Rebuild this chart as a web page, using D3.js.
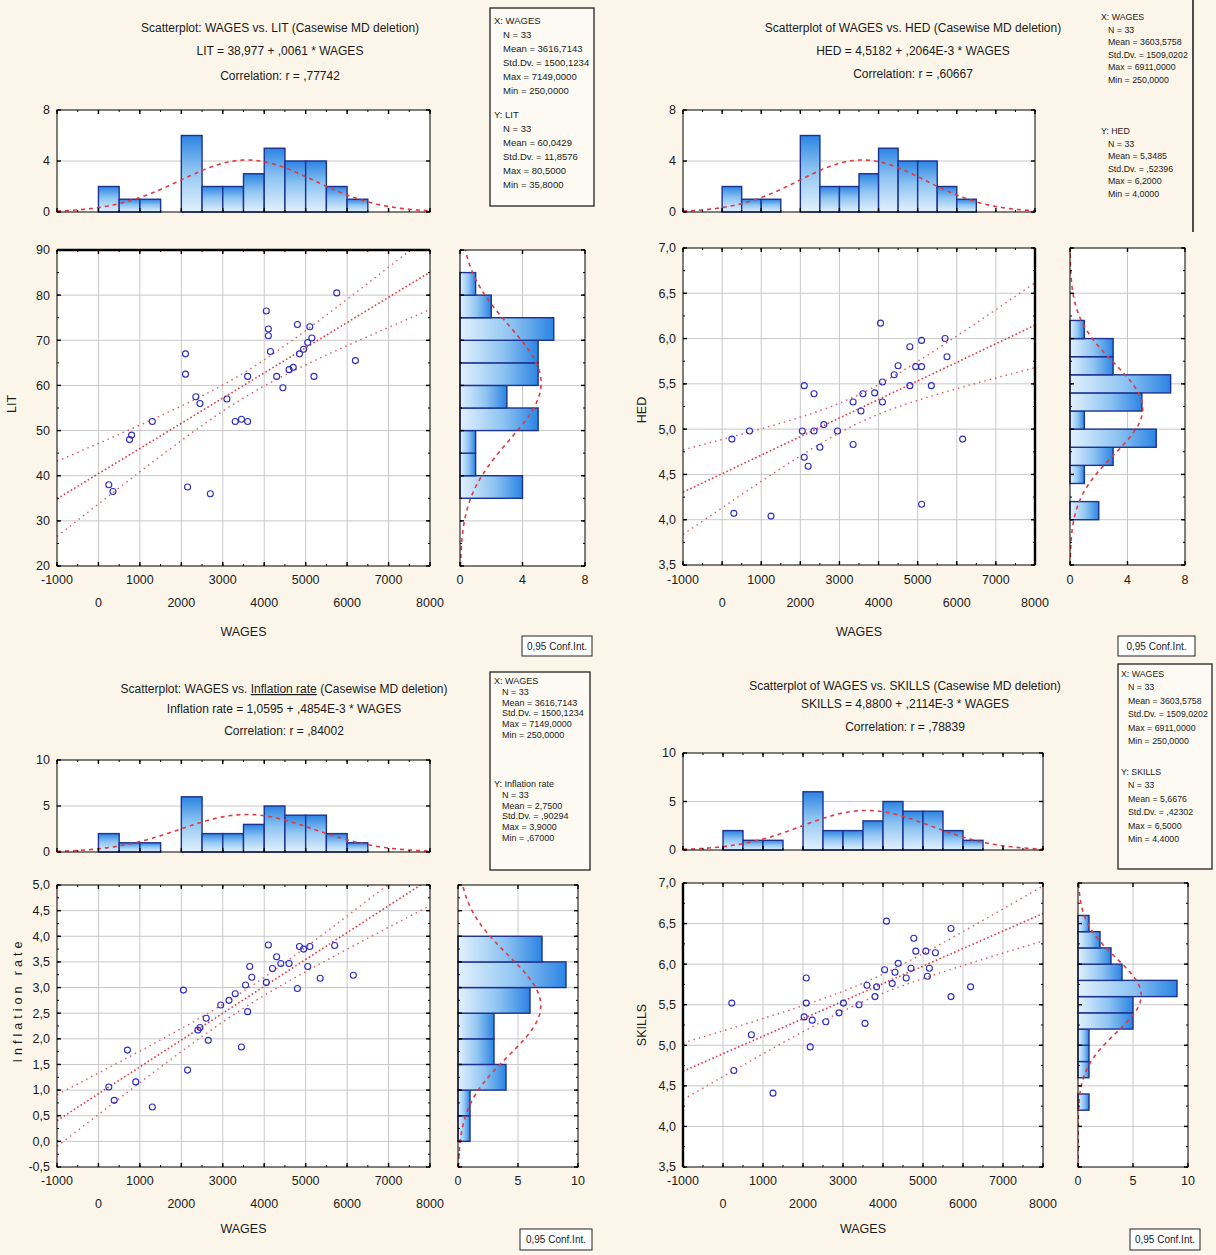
<!DOCTYPE html>
<html>
<head>
<meta charset="utf-8">
<script src="https://cdn.jsdelivr.net/npm/d3@7"></script>
<style>
  body { margin: 0; background: #fcf6ea; }
  svg { display: block; font-family: 'Liberation Sans', Arial, sans-serif; }
</style>
</head>
<body>
<svg id="chart" width="1216" height="1255"></svg>
<script>
// WAGES histogram (same variable in every panel), bins of 500
const wagesEdges = [0, 500, 1000, 1500, 2000, 2500, 3000, 3500, 4000, 4500, 5000, 5500, 6000]
const wagesCounts = [2, 1, 1, 0, 6, 2, 2, 3, 5, 4, 4, 2, 1]

const litEdges = [35, 40, 45, 50, 55, 60, 65, 70, 75, 80]
const litCounts = [4, 1, 1, 5, 3, 5, 5, 6, 2, 1]

const hedEdges = [4.0, 4.2, 4.4, 4.6, 4.8, 5.0, 5.2, 5.4, 5.6, 5.8, 6.0]
const hedCounts = [2, 0, 1, 3, 6, 1, 5, 7, 3, 3, 1]

const inflEdges = [0, 0.5, 1.0, 1.5, 2.0, 2.5, 3.0, 3.5]
const inflCounts = [1, 1, 4, 3, 3, 6, 9, 7]

const skillEdges = [4.2, 4.4, 4.6, 4.8, 5.0, 5.2, 5.4, 5.6, 5.8, 6.0, 6.2, 6.4]
const skillCounts = [1, 0, 1, 1, 1, 5, 5, 9, 4, 3, 2, 1]

// scatter points [WAGES, y]
const litPoints = [[250, 38], [350, 36.5], [750, 48], [800, 49], [1300, 52], [2100, 67], [2100, 62.5],
  [2150, 37.5], [2350, 57.5], [2450, 56], [2700, 36], [3300, 52], [3450, 52.5], [3600, 52], [3600, 62],
  [3100, 57], [4050, 76.5], [4100, 72.5], [4100, 71], [4150, 67.5], [4300, 62], [4450, 59.5], [4600, 63.5],
  [4700, 64], [4800, 73.5], [4850, 67], [4950, 68], [5050, 69.5], [5100, 73], [5150, 70.5], [5200, 62],
  [5750, 80.5], [6200, 65.5]]

const hedPoints = [[4050, 6.17], [4800, 5.91], [5100, 5.98], [5700, 6.0], [5750, 5.8], [4950, 5.69],
  [5100, 5.69], [4100, 5.52], [4800, 5.48], [5350, 5.48], [3600, 5.39], [3350, 5.30], [3550, 5.2],
  [4100, 5.3], [2100, 5.48], [2350, 5.39], [2050, 4.98], [2350, 4.98], [2950, 4.98], [2500, 4.8],
  [3350, 4.83], [2100, 4.69], [2200, 4.59], [700, 4.98], [250, 4.89], [300, 4.07], [1250, 4.04],
  [5100, 4.17], [6150, 4.89], [4400, 5.6], [3900, 5.4], [4500, 5.7], [2600, 5.05]]

const inflPoints = [[4100, 3.83], [4850, 3.80], [5100, 3.80], [5700, 3.82], [4950, 3.75], [3650, 3.41],
  [4200, 3.37], [4400, 3.47], [4600, 3.47], [5050, 3.41], [5350, 3.18], [6150, 3.24], [3550, 3.05],
  [4800, 2.98], [3300, 2.88], [2050, 2.95], [2950, 2.66], [3600, 2.53], [3150, 2.75], [2400, 2.17],
  [2450, 2.22], [2650, 1.97], [3450, 1.84], [700, 1.78], [2150, 1.39], [250, 1.06], [900, 1.16],
  [1300, 0.67], [380, 0.80], [4300, 3.6], [3700, 3.2], [4050, 3.1], [2600, 2.4]]

const skillPoints = [[4087, 6.53], [5700, 6.44], [4770, 6.32], [4820, 6.16], [5070, 6.16], [5310, 6.14],
  [4380, 6.01], [4040, 5.93], [5160, 5.95], [5110, 5.85], [4580, 5.83], [4230, 5.76], [3600, 5.74],
  [3840, 5.72], [2080, 5.83], [6190, 5.72], [5700, 5.60], [3010, 5.52], [3400, 5.50], [2080, 5.52],
  [2030, 5.35], [2230, 5.31], [2570, 5.29], [3550, 5.27], [220, 5.52], [710, 5.13], [2180, 4.98],
  [270, 4.69], [1250, 4.41], [4300, 5.9], [4700, 5.95], [2900, 5.4], [3800, 5.6]]

// titles and legend texts
const litTitle = ['Scatterplot: WAGES vs. LIT (Casewise MD deletion)', 'LIT = 38,977 + ,0061 * WAGES', 'Correlation: r = ,77742']
const hedTitle = ['Scatterplot of WAGES vs. HED (Casewise MD deletion)', 'HED = 4,5182 + ,2064E-3 * WAGES', 'Correlation: r = ,60667']
const inflTitle = ['Scatterplot: WAGES vs. Inflation rate (Casewise MD deletion)', 'Inflation rate = 1,0595 + ,4854E-3 * WAGES', 'Correlation: r = ,84002']
const skillTitle = ['Scatterplot of WAGES vs. SKILLS (Casewise MD deletion)', 'SKILLS = 4,8800 + ,2114E-3 * WAGES', 'Correlation: r = ,78839']

const wagesLegendA = ['X: WAGES', 'N = 33', 'Mean = 3616,7143', 'Std.Dv. = 1500,1234', 'Max = 7149,0000', 'Min = 250,0000']
const wagesLegendB = ['X: WAGES', 'N = 33', 'Mean = 3603,5758', 'Std.Dv. = 1509,0202', 'Max = 6911,0000', 'Min = 250,0000']
const litLegend = ['Y: LIT', 'N = 33', 'Mean = 60,0429', 'Std.Dv. = 11,8576', 'Max = 80,5000', 'Min = 35,8000']
const hedLegend = ['Y: HED', 'N = 33', 'Mean = 5,3485', 'Std.Dv. = ,52396', 'Max = 6,2000', 'Min = 4,0000']
const inflLegend = ['Y: Inflation rate', 'N = 33', 'Mean = 2,7500', 'Std.Dv. = ,90294', 'Max = 3,9000', 'Min = ,67000']
const skillLegend = ['Y: SKILLS', 'N = 33', 'Mean = 5,6676', 'Std.Dv. = ,42302', 'Max = 6,5000', 'Min = 4,4000']

// ---- drawing ----
const svg = d3.select('#chart')
const xDomain = [-1000, 8000]
const xTicks = d3.range(-1000, 8001, 1000)
const xMinor = d3.range(-1000, 8001, 500)
const gridCol = '#c8c8c8'
const red = '#e2383f'
const blue = '#2b2bc8'
const navy = '#1c3290'
const ink = '#1a1a1a'
const minus = s => s.replace('\u2212', '-')
const fmtInt = d => minus(d3.format('d')(d))
const fmtDec = d => minus(d3.format('.1f')(d)).replace('.', ',')

const defs = svg.append('defs')
function gradient (id, x1, y1, x2, y2) {
  const gr = defs.append('linearGradient').attr('id', id)
    .attr('x1', x1).attr('y1', y1).attr('x2', x2).attr('y2', y2)
  gr.append('stop').attr('offset', 0).attr('stop-color', '#2c84e3')
  gr.append('stop').attr('offset', 0.45).attr('stop-color', '#8ec4f2')
  gr.append('stop').attr('offset', 1).attr('stop-color', '#e3f1fd')
}
gradient('barV', 0, 0, 0, 1)
gradient('barH', 1, 0, 0, 0)

// normal curve fitted to binned counts (as Statistica overlays)
function normalFit (edges, counts, w) {
  const n = d3.sum(counts)
  const mids = edges.map(e => e + w / 2)
  const mean = d3.sum(mids, (m, i) => m * counts[i]) / n
  const sd = Math.sqrt(d3.sum(mids, (m, i) => counts[i] * (m - mean) ** 2) / (n - 1))
  return v => n * w * Math.exp(-0.5 * ((v - mean) / sd) ** 2) / (sd * Math.sqrt(2 * Math.PI))
}

// least squares line and 95% confidence band computed from the points
function regression (pts) {
  const n = pts.length
  const mx = d3.mean(pts, d => d[0])
  const my = d3.mean(pts, d => d[1])
  const sxx = d3.sum(pts, d => (d[0] - mx) ** 2)
  const sxy = d3.sum(pts, d => (d[0] - mx) * (d[1] - my))
  const b = sxy / sxx
  const a = my - b * mx
  const s = Math.sqrt(d3.sum(pts, d => (d[1] - a - b * d[0]) ** 2) / (n - 2))
  return {
    fit: v => a + b * v,
    band: v => 2.04 * s * Math.sqrt(1 / n + (v - mx) ** 2 / sxx)
  }
}

let clipId = 0
function clip (x0, y0, x1, y1) {
  const id = 'clip' + (clipId++)
  defs.append('clipPath').attr('id', id).append('rect')
    .attr('x', x0).attr('y', y0).attr('width', x1 - x0).attr('height', y1 - y0)
  return `url(#${id})`
}

// frame with inward tick marks on all four sides
function frame (g, x0, y0, x1, y1, hTicks, vTicks, hMinor, vMinor, thick) {
  g.append('rect').attr('x', x0).attr('y', y0).attr('width', x1 - x0).attr('height', y1 - y0)
    .attr('fill', 'none').attr('stroke', '#000').attr('stroke-width', 1)
  const t = g.append('g').attr('stroke', '#000')
  const mk = (vals, len, w) => {
    vals.forEach(v => {
      t.append('line').attr('x1', v).attr('x2', v).attr('y1', y1).attr('y2', y1 - len).attr('stroke-width', w)
      t.append('line').attr('x1', v).attr('x2', v).attr('y1', y0).attr('y2', y0 + len).attr('stroke-width', w)
    })
  }
  const mkv = (vals, len, w) => {
    vals.forEach(v => {
      t.append('line').attr('y1', v).attr('y2', v).attr('x1', x0).attr('x2', x0 + len).attr('stroke-width', w)
      t.append('line').attr('y1', v).attr('y2', v).attr('x1', x1).attr('x2', x1 - len).attr('stroke-width', w)
    })
  }
  mk(hMinor, 2, 1)
  mk(hTicks, 4, 1.4)
  mkv(vMinor, 2, 1)
  mkv(vTicks, 4, 1.4)
  if (thick) {
    const s = { top: [x0, y0, x1, y0], right: [x1, y0, x1, y1], left: [x0, y0, x0, y1] }[thick]
    g.append('line').attr('x1', s[0]).attr('y1', s[1]).attr('x2', s[2]).attr('y2', s[3])
      .attr('stroke', '#000').attr('stroke-width', 2.4)
  }
}

function drawPanel (p) {
  const L = p.layout
  const g = svg.append('g')
  const x = d3.scaleLinear().domain(xDomain).range([L.sx0, L.sx1])
  const y = d3.scaleLinear().domain(p.yDomain).range([L.sy1, L.sy0])
  const nSteps = Math.round((p.yDomain[1] - p.yDomain[0]) / p.yStep)
  const yTicks = d3.range(nSteps + 1).map(k => p.yDomain[0] + k * p.yStep)
  const yMinor = d3.range(nSteps * 2 + 1).map(k => p.yDomain[0] + k * p.yStep / 2)

  // title
  const tl = g.append('g').attr('font-size', 12).attr('fill', ink).attr('text-anchor', 'middle')
  p.title.forEach((line, i) => {
    const t = tl.append('text').attr('x', L.tx).attr('y', L.ty[i])
    const parts = p.underline && i === 0 ? line.split(p.underline) : [line]
    parts.forEach((s, j) => {
      if (j > 0) t.append('tspan').attr('text-decoration', 'underline').text(p.underline)
      t.append('tspan').text(s)
    })
  })

  // --- top histogram of WAGES ---
  const yt = d3.scaleLinear().domain([0, p.topMax]).range([L.hy1, L.hy0])
  const top = g.append('g')
  top.append('rect').attr('x', L.sx0).attr('y', L.hy0).attr('width', L.sx1 - L.sx0)
    .attr('height', L.hy1 - L.hy0).attr('fill', '#fff')
  top.selectAll('line.grid').data(p.topTicks.slice(1, -1)).join('line').attr('class', 'grid')
    .attr('x1', L.sx0).attr('x2', L.sx1).attr('y1', d => yt(d)).attr('y2', d => yt(d)).attr('stroke', gridCol)
  const xBins = p.xEdges.map((e, i) => ({ lo: e, hi: e + p.xBinW, c: p.xCounts[i] })).filter(d => d.c > 0)
  top.selectAll('rect.bar').data(xBins).join('rect').attr('class', 'bar')
    .attr('x', d => x(d.lo)).attr('width', d => x(d.hi) - x(d.lo))
    .attr('y', d => yt(d.c)).attr('height', d => yt(0) - yt(d.c))
    .attr('fill', 'url(#barV)').attr('stroke', navy).attr('stroke-width', 1.4)
  const nx = normalFit(p.xEdges, p.xCounts, p.xBinW)
  top.append('path').datum(d3.range(xDomain[0], xDomain[1] + 1, 50))
    .attr('clip-path', clip(L.sx0, L.hy0, L.sx1, L.hy1))
    .attr('d', d3.line().x(v => x(v)).y(v => yt(nx(v))))
    .attr('fill', 'none').attr('stroke', red).attr('stroke-width', 1.6).attr('stroke-dasharray', '4,4')
  frame(top, L.sx0, L.hy0, L.sx1, L.hy1, xTicks.map(x), p.topTicks.map(yt), xMinor.map(x), [], null)
  top.selectAll('text').data(p.topTicks).join('text')
    .attr('x', L.sx0 - 7).attr('y', d => yt(d)).attr('dy', '0.35em').attr('text-anchor', 'end')
    .attr('font-size', 12.5).attr('fill', ink).text(d => d)

  // --- scatterplot ---
  const sc = g.append('g')
  sc.append('rect').attr('x', L.sx0).attr('y', L.sy0).attr('width', L.sx1 - L.sx0)
    .attr('height', L.sy1 - L.sy0).attr('fill', '#fff')
  sc.selectAll('line.gx').data(xTicks.slice(1, -1)).join('line').attr('class', 'gx')
    .attr('x1', d => x(d)).attr('x2', d => x(d)).attr('y1', L.sy0).attr('y2', L.sy1).attr('stroke', gridCol)
  sc.selectAll('line.gy').data(yTicks.slice(1, -1)).join('line').attr('class', 'gy')
    .attr('y1', d => y(d)).attr('y2', d => y(d)).attr('x1', L.sx0).attr('x2', L.sx1).attr('stroke', gridCol)

  const inner = sc.append('g').attr('clip-path', clip(L.sx0, L.sy0, L.sx1, L.sy1))
  const reg = regression(p.points)
  const xs = d3.range(xDomain[0], xDomain[1] + 1, 100)
  const line = d3.line().x(d => x(d[0])).y(d => y(d[1]))
  ;[-1, 1].forEach(sgn => {
    inner.append('path').datum(xs.map(v => [v, reg.fit(v) + sgn * reg.band(v)]))
      .attr('d', line).attr('fill', 'none').attr('stroke', '#e4575e')
      .attr('stroke-width', 1.4).attr('stroke-dasharray', '1.5,4')
  })
  inner.append('path').datum(xs.map(v => [v, reg.fit(v)]))
    .attr('d', line).attr('fill', 'none').attr('stroke', red)
    .attr('stroke-width', 1.6).attr('stroke-dasharray', '1.6,2.4')
  inner.selectAll('circle').data(p.points).join('circle')
    .attr('cx', d => x(d[0])).attr('cy', d => y(d[1])).attr('r', 3)
    .attr('fill', 'none').attr('stroke', blue).attr('stroke-width', 1.1)

  frame(sc, L.sx0, L.sy0, L.sx1, L.sy1, xTicks.map(x), yTicks.map(y), xMinor.map(x), yMinor.map(y), L.thick)

  // x tick labels in two staggered rows
  sc.selectAll('text.xl').data(xTicks).join('text').attr('class', 'xl')
    .attr('x', d => x(d)).attr('y', d => Math.abs(d / 1000) % 2 === 1 ? L.lab1 : L.lab2)
    .attr('text-anchor', 'middle').attr('font-size', 12.5).attr('fill', ink).text(fmtInt)
  sc.selectAll('text.yl').data(yTicks).join('text').attr('class', 'yl')
    .attr('x', L.sx0 - 7).attr('y', d => y(d)).attr('dy', '0.35em').attr('text-anchor', 'end')
    .attr('font-size', 12.5).attr('fill', ink).text(p.yFormat)
  sc.append('text').attr('x', (L.sx0 + L.sx1) / 2).attr('y', L.xt).attr('text-anchor', 'middle')
    .attr('font-size', 12.5).attr('fill', ink).text('WAGES')
  sc.append('text').attr('transform', `translate(${L.ytx},${L.yty}) rotate(-90)`)
    .attr('text-anchor', 'middle').attr('font-size', 12.5).attr('fill', ink)
    .attr('letter-spacing', p.ySpacing || 0).text(p.yName)

  // --- right histogram of the y variable ---
  const xr = d3.scaleLinear().domain([0, p.rightMax]).range([L.rx0, L.rx1])
  const rh = g.append('g')
  rh.append('rect').attr('x', L.rx0).attr('y', L.sy0).attr('width', L.rx1 - L.rx0)
    .attr('height', L.sy1 - L.sy0).attr('fill', '#fff')
  rh.selectAll('line.gy').data(yTicks.slice(1, -1)).join('line').attr('class', 'gy')
    .attr('y1', d => y(d)).attr('y2', d => y(d)).attr('x1', L.rx0).attr('x2', L.rx1).attr('stroke', gridCol)
  rh.selectAll('line.gx').data(p.rightTicks.slice(1, -1)).join('line').attr('class', 'gx')
    .attr('x1', d => xr(d)).attr('x2', d => xr(d)).attr('y1', L.sy0).attr('y2', L.sy1).attr('stroke', gridCol)
  const yBins = p.yEdges.map((e, i) => ({ lo: e, hi: e + p.yBinW, c: p.yCounts[i] })).filter(d => d.c > 0)
  rh.selectAll('rect.bar').data(yBins).join('rect').attr('class', 'bar')
    .attr('x', L.rx0).attr('width', d => xr(d.c) - L.rx0)
    .attr('y', d => y(d.hi)).attr('height', d => y(d.lo) - y(d.hi))
    .attr('fill', 'url(#barH)').attr('stroke', navy).attr('stroke-width', 1.4)
  const ny = normalFit(p.yEdges, p.yCounts, p.yBinW)
  const ys = d3.range(0, 301).map(k => p.yDomain[0] + k * (p.yDomain[1] - p.yDomain[0]) / 300)
  rh.append('path').datum(ys)
    .attr('clip-path', clip(L.rx0, L.sy0, L.rx1, L.sy1))
    .attr('d', d3.line().x(v => xr(ny(v))).y(v => y(v)))
    .attr('fill', 'none').attr('stroke', red).attr('stroke-width', 1.6).attr('stroke-dasharray', '4,4')
  frame(rh, L.rx0, L.sy0, L.rx1, L.sy1, p.rightTicks.map(xr), yTicks.map(y), [], yMinor.map(y), null)
  rh.selectAll('text').data(p.rightTicks).join('text')
    .attr('x', d => xr(d)).attr('y', L.lab1).attr('text-anchor', 'middle')
    .attr('font-size', 12.5).attr('fill', ink).text(d => d)

  // --- statistics legend ---
  const lgd = L.legend
  const lg = g.append('g')
  if (lgd.border === 'box') {
    lg.append('rect').attr('x', lgd.x).attr('y', lgd.y).attr('width', lgd.w).attr('height', lgd.h)
      .attr('fill', '#fdfaf3').attr('stroke', '#222').attr('stroke-width', 1.3)
  } else {
    lg.append('line').attr('x1', lgd.x + lgd.w).attr('x2', lgd.x + lgd.w).attr('y1', lgd.y)
      .attr('y2', lgd.y + lgd.h).attr('stroke', '#222').attr('stroke-width', 1.6)
  }
  const lt = lg.append('g').attr('font-size', lgd.fs).attr('fill', ink)
  ;[[p.xLegend, lgd.firstY], [p.yLegend, lgd.secondY]].forEach(([rows, y0]) => {
    rows.forEach((r, i) => {
      lt.append('text').attr('x', i === 0 ? lgd.tx1 : lgd.tx2).attr('y', y0 + i * lgd.step).text(r)
    })
  })

  // confidence interval key
  const cf = L.conf
  g.append('rect').attr('x', cf.x).attr('y', cf.y).attr('width', cf.w).attr('height', cf.h)
    .attr('fill', '#fff').attr('stroke', '#222')
  g.append('text').attr('x', cf.x + cf.w / 2).attr('y', cf.y + cf.h / 2).attr('dy', '0.35em')
    .attr('text-anchor', 'middle').attr('font-size', 10).attr('fill', ink).text('0,95 Conf.Int.')
}

const panels = [
  {
    title: litTitle, yName: 'LIT', points: litPoints, yDomain: [20, 90], yStep: 10, yFormat: fmtInt,
    xEdges: wagesEdges, xCounts: wagesCounts, xBinW: 500, topMax: 8, topTicks: [0, 4, 8],
    yEdges: litEdges, yCounts: litCounts, yBinW: 5, rightMax: 8, rightTicks: [0, 4, 8],
    xLegend: wagesLegendA, yLegend: litLegend,
    layout: {
      tx: 280, ty: [32, 55, 80], sx0: 57, sx1: 430, hy0: 110, hy1: 212, sy0: 250, sy1: 566,
      rx0: 460, rx1: 585, lab1: 584, lab2: 607, xt: 636, ytx: 16, yty: 404, thick: 'top',
      legend: { border: 'box', x: 490, y: 8, w: 104, h: 198, tx1: 494, tx2: 503, firstY: 24, secondY: 118, step: 14, fs: 9.5 },
      conf: { x: 522, y: 636, w: 70, h: 20 }
    }
  },
  {
    title: hedTitle, yName: 'HED', points: hedPoints, yDomain: [3.5, 7.0], yStep: 0.5, yFormat: fmtDec,
    xEdges: wagesEdges, xCounts: wagesCounts, xBinW: 500, topMax: 8, topTicks: [0, 4, 8],
    yEdges: hedEdges, yCounts: hedCounts, yBinW: 0.2, rightMax: 8, rightTicks: [0, 4, 8],
    xLegend: wagesLegendB, yLegend: hedLegend,
    layout: {
      tx: 913, ty: [32, 55, 78], sx0: 683, sx1: 1035, hy0: 110, hy1: 212, sy0: 248, sy1: 565,
      rx0: 1070, rx1: 1185, lab1: 584, lab2: 607, xt: 636, ytx: 646, yty: 410, thick: 'right',
      legend: { border: 'right', x: 1100, y: 0, w: 93, h: 232, tx1: 1101, tx2: 1108, firstY: 20, secondY: 134, step: 12.5, fs: 8.8 },
      conf: { x: 1118, y: 636, w: 77, h: 20 }
    }
  },
  {
    title: inflTitle, underline: 'Inflation rate', yName: 'Inflation rate', ySpacing: 4,
    points: inflPoints, yDomain: [-0.5, 5.0], yStep: 0.5, yFormat: fmtDec,
    xEdges: wagesEdges, xCounts: wagesCounts, xBinW: 500, topMax: 10, topTicks: [0, 5, 10],
    yEdges: inflEdges, yCounts: inflCounts, yBinW: 0.5, rightMax: 10, rightTicks: [0, 5, 10],
    xLegend: wagesLegendA, yLegend: inflLegend,
    layout: {
      tx: 284, ty: [693, 713, 735], sx0: 57, sx1: 430, hy0: 760, hy1: 852, sy0: 885, sy1: 1167,
      rx0: 458, rx1: 578, lab1: 1185, lab2: 1208, xt: 1233, ytx: 22, yty: 1000, thick: null,
      legend: { border: 'box', x: 490, y: 672, w: 100, h: 198, tx1: 494, tx2: 502, firstY: 684, secondY: 787, step: 10.8, fs: 9 },
      conf: { x: 520, y: 1229, w: 72, h: 21 }
    }
  },
  {
    title: skillTitle, yName: 'SKILLS', points: skillPoints, yDomain: [3.5, 7.0], yStep: 0.5, yFormat: fmtDec,
    xEdges: wagesEdges, xCounts: wagesCounts, xBinW: 500, topMax: 10, topTicks: [0, 5, 10],
    yEdges: skillEdges, yCounts: skillCounts, yBinW: 0.2, rightMax: 10, rightTicks: [0, 5, 10],
    xLegend: wagesLegendB, yLegend: skillLegend,
    layout: {
      tx: 905, ty: [690, 708, 731], sx0: 683, sx1: 1043, hy0: 753, hy1: 850, sy0: 883, sy1: 1167,
      rx0: 1078, rx1: 1188, lab1: 1185, lab2: 1208, xt: 1233, ytx: 646, yty: 1025, thick: 'left',
      legend: { border: 'box', x: 1118, y: 664, w: 94, h: 205, tx1: 1121, tx2: 1128, firstY: 677, secondY: 775, step: 13.4, fs: 8.8 },
      conf: { x: 1130, y: 1229, w: 70, h: 21 }
    }
  }
]

panels.forEach(drawPanel)
</script>
</body>
</html>
